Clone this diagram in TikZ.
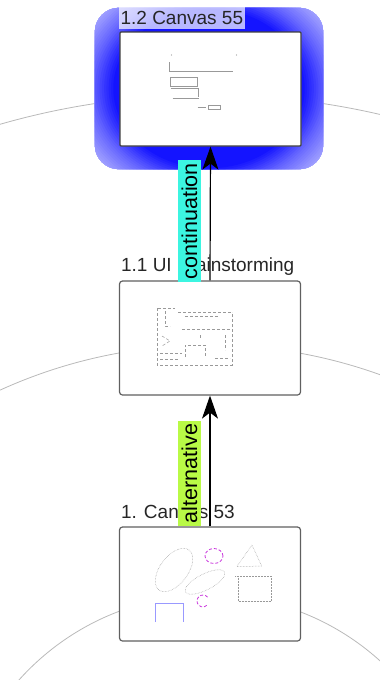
\documentclass[tikz,border=0pt]{standalone}
\usepackage{fontspec}
\setmainfont{Liberation Sans}
\usetikzlibrary{arrows.meta}
\definecolor{contcol}{RGB}{60,245,225}
\definecolor{altcol}{RGB}{185,250,70}
\definecolor{penpink}{RGB}{200,50,220}
\definecolor{glowdeep}{RGB}{20,20,255}
\definecolor{glowpale}{RGB}{200,200,255}
\tikzstyle{canvas} = [draw=gray!75!black, line width=1.2pt, rounded corners=3pt, fill=white,
    minimum width=181pt, minimum height=114pt, inner sep=0pt]
\tikzstyle{title} = [anchor=base west, inner xsep=1.5pt, inner ysep=4.5pt,
    font=\fontsize{19}{22}\selectfont, text=black!85]
\tikzstyle{tag} = [rotate=90, anchor=south west, inner xsep=3pt, inner ysep=3.5pt,
    font=\fontsize{21.5}{24}\selectfont]
\tikzstyle{link} = [line width=1.2pt, -{Stealth[length=23pt,width=16pt,inset=6pt]}]
\tikzstyle{sketch} = [gray!80, line width=0.5pt]

\begin{document}
\begin{tikzpicture}[x=1pt, y=-1pt]
    \useasboundingbox (0,0) rectangle (380,680);
    % rings of the radial layout
    \begin{scope}
        \clip (0,0) rectangle (380,680);
        \foreach \r in {255,505,755}
            \draw[gray!55, line width=0.8pt] (209,850) circle[radius=\r pt];
    \end{scope}

    % selected canvas with its glow
    \node[rounded corners=24pt, minimum width=228pt, minimum height=161pt, inner sep=0pt] (sel) at (209,88.5) {};
    \begin{scope}
        \clip[rounded corners=24pt] (sel.south west) rectangle (sel.north east);
        \fill[glowpale] (sel.south west) rectangle (sel.north east);
        \foreach \i in {0,...,30} {
            \pgfmathsetmacro{\rr}{1.40-0.02*\i}
            \pgfmathtruncatemacro{\p}{max(0,min(100,(\rr<=1.04) ? (100-225*(\rr-0.84)) : (55-171.875*(\rr-1.04))))}
            \fill[glowdeep!\p!glowpale] (sel.center) circle[x radius=\rr*114pt, y radius=\rr*95pt];
        }
    \end{scope}
    \node[canvas, draw=black!75, rounded corners=1pt] (c55) at (210.5,89) {};
    \node[canvas] (ui) at (210,338) {};
    \node[canvas] (c53) at (210,584) {};

    % thumbnails
    \begin{scope}[shift={(c55.center)}, sketch]
        \fill (-39,-34) circle[radius=0.6pt];
        \fill (26,-34) circle[radius=0.6pt];
        \draw (-41,-27) -- (-41,-18) -- (22,-18);
        \draw (-40,-12) rectangle (-13,-3);
        \draw (-40,-1) -- (-12,-1) -- (-12,8);
        \draw (-38,9) -- (-12,9);
        \draw (-13,18) -- (-5,18);
        \draw (-2,16) rectangle (10,20);
    \end{scope}
    \begin{scope}[shift={(ui.center)}, sketch, densely dashed]
        \draw (-53,-30) -- (-53,27) -- (22,27) -- (22,-26);
        \draw (-32,-26) -- (22,-26);
        \draw (-25,-22) -- (8,-22);
        \draw (-52,-30) -- (-35,-30);
        \draw (-45,-27) -- (-45,-12) -- (-40,-12);
        \draw (-28,-9) -- (20,-9);
        \draw (15,-3) -- (15,12);
        \draw (-48,-2) -- (-40,3) -- (-48,8);
        \draw (-25,19) -- (-25,7) -- (-5,7) -- (-5,19);
        \draw (-50,15) -- (-28,15);
        \draw (-50,21) -- (-32,21);
        \draw (5,20) -- (20,20);
        \draw (-10,-3) -- (-10,2);
    \end{scope}
    \begin{scope}[shift={(c53.center)}, sketch, densely dotted]
        \draw (-36,-14) circle[x radius=25pt, y radius=14pt, rotate=53];
        \draw (-5,-2) circle[x radius=22pt, y radius=8pt, rotate=27];
        \draw[penpink, solid, densely dashed, line width=0.8pt] (4,-28) circle[x radius=9pt, y radius=7.5pt];
        \draw[penpink, solid, densely dashed, line width=0.8pt] (-7,17) ++(40:6pt) arc[start angle=40, end angle=320, radius=6pt];
        \draw (42,-39) -- (26.7,-17.3) -- (51.7,-18) -- cycle;
        \draw (28,-8) rectangle (61,17);
        \draw (25,-8) -- (28,-8);
        \draw[blue!40, solid, line width=0.6pt] (-55,38) -- (-55,19) -- (-27,19) -- (-27,38);
    \end{scope}

    % titles
    \node[title, fill=white, fill opacity=0.7, text opacity=1] (t55) at ([shift={(-0.5,-7)}]c55.north west) {1.2 Canvas 55};
    \node[title] (tui) at ([shift={(0.5,-8.5)}]ui.north west) {1.1 UI Brainstorming};
    \node[title] (t53) at ([shift={(0.5,-7.5)}]c53.north west) {1. Canvas 53};

    % links between the canvases
    \draw[link] (c53.north) -- (ui.south);
    \draw[link] (ui.north) -- (c55.south);
    \node[tag, fill=altcol] (talt) at ([xshift=-9pt]c53.north) {alternative};
    \node[tag, fill=contcol] (tcont) at ([xshift=-9pt, yshift=-2pt]ui.north) {continuation};
\end{tikzpicture}
\end{document}
